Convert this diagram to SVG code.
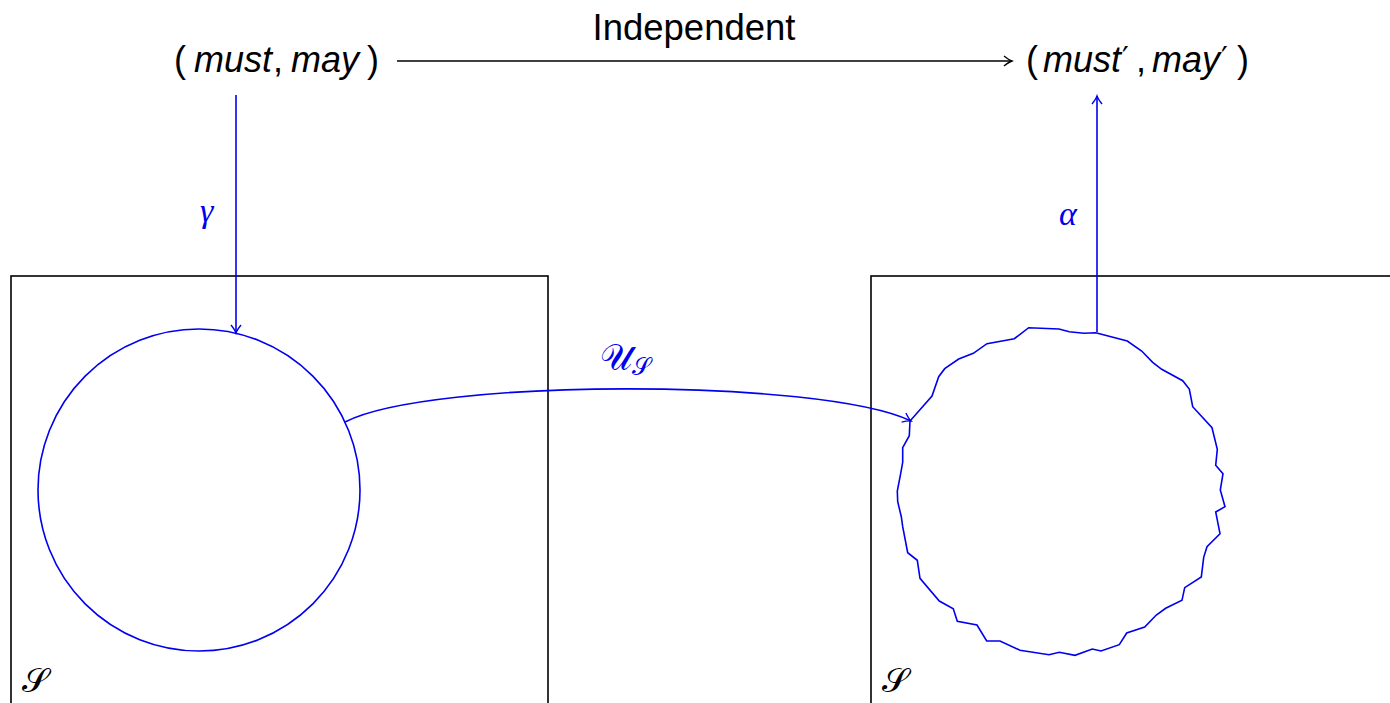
<svg xmlns="http://www.w3.org/2000/svg" width="1390" height="703" viewBox="0 0 1390 703">
<style>
.t{font-family:"Liberation Sans",Arial,sans-serif;font-size:36px;fill:#000}
.i{font-style:italic}
.p{font-family:"DejaVu Sans",sans-serif;font-size:30px;font-style:normal}
.m{font-family:"Liberation Serif","DejaVu Serif",serif;font-style:italic;fill:#0000ee}
.s{font-family:"DejaVu Serif","Liberation Serif",serif;font-style:normal}
.box{fill:none;stroke:#000;stroke-width:1.6}
.blue{fill:none;stroke:#0000ee;stroke-width:1.6}
</style>
<defs>
<marker id="ahb" viewBox="-10 -6 12 12" refX="0" refY="0" markerWidth="12" markerHeight="12" markerUnits="userSpaceOnUse" orient="auto">
<path d="M-8,-5 Q-3,-1 0,0 Q-3,1 -8,5" fill="none" stroke="#0000ee" stroke-width="1.4"/>
</marker>
<marker id="ahk" viewBox="-10 -6 12 12" refX="0" refY="0" markerWidth="12" markerHeight="12" markerUnits="userSpaceOnUse" orient="auto">
<path d="M-8,-5 Q-3,-1 0,0 Q-3,1 -8,5" fill="none" stroke="#000" stroke-width="1.4"/>
</marker>
</defs>
<rect width="1390" height="703" fill="#fff"/>
<g id="left-box">
<rect class="box" x="11" y="276" width="537" height="440"/>
<text x="22" y="692" class="m s" style="fill:#000;font-size:34px">𝒮</text>
</g>
<g id="right-box">
<rect class="box" x="871" y="276" width="540" height="440"/>
<text x="882" y="692" class="m s" style="fill:#000;font-size:34px">𝒮</text>
</g>
<g id="left-circle">
<circle class="blue" cx="199" cy="490" r="161"/>
</g>
<g id="right-blob">
<polygon class="blue" points="1095.7,332.7 1127.3,341 1141.7,351 1152.7,362.3 1161.7,369.3 1182.7,380.7 1189.3,389 1192.7,406.7 1212,427.7 1217.3,449.3 1215.7,465.3 1223,473.7 1220.3,490 1225,506.7 1215.7,512 1220,533.7 1207,546.7 1203.7,557.3 1201.3,577 1184.7,587.7 1182,600.3 1165.7,608.3 1156.3,615 1144.7,627 1126.7,633 1119.3,644.7 1101,651 1092.3,649 1075,655.3 1059.3,652.3 1049,654.7 1020,650.3 1000,641 986.7,641 977,625 957.3,621.3 953.3,608.7 939.3,601 920,578.3 917.3,560.3 907.7,552.7 902.7,526.7 901.3,516.7 897.7,501.7 897.3,491 900.7,473.3 902.7,462.3 902.7,447.7 909.3,435.7 910,421 932,396 938.7,376.7 944.7,368.7 958.7,359 973.3,353.3 987,343.7 1014.3,338.7 1028.7,327.7 1059,329 1069.3,331.7 1084,333.3"/>
</g>
<g id="must-may">
<text class="t" y="72"><tspan x="174">(</tspan><tspan x="194" class="i">must</tspan><tspan x="273">,</tspan><tspan x="291" class="i">may</tspan><tspan x="367">)</tspan></text>
</g>
<g id="must-may-prime">
<text class="t" y="72"><tspan x="1026">(</tspan><tspan x="1043" class="i">must</tspan><tspan class="p" dx="1" y="68">′</tspan><tspan x="1136" y="72">,</tspan><tspan x="1152" class="i">may</tspan><tspan class="p" dx="1" y="68">′</tspan><tspan x="1237" y="72">)</tspan></text>
</g>
<g id="connectors">
<line x1="397" y1="61" x2="1012" y2="61" stroke="#000" stroke-width="1.6" marker-end="url(#ahk)"/>
<text x="694" y="40" class="t" text-anchor="middle" style="font-size:36.5px">Independent</text>
<line x1="236" y1="95" x2="236" y2="333" class="blue" marker-end="url(#ahb)"/>
<text x="200" y="222" class="m" style="font-size:34px">γ</text>
<line x1="1097" y1="332" x2="1097" y2="96" class="blue" marker-end="url(#ahb)"/>
<text x="1059" y="225" class="m" style="font-size:34px">α</text>
<path d="M345,422 C430,378 820,378 911,421" class="blue" marker-end="url(#ahb)"/>
<text x="600" y="370" class="m s" style="font-size:36px">𝒰<tspan style="font-size:24px" dy="5">𝒮</tspan></text>
</g>
</svg>
